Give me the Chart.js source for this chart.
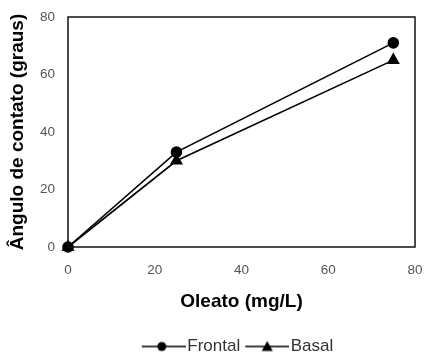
<!DOCTYPE html>
<html><head><meta charset="utf-8">
<script src="https://cdn.jsdelivr.net/npm/chart.js@4/dist/chart.umd.min.js"></script>
<style>html,body{margin:0;padding:0;background:#fff}#w{width:424px;height:352px}</style>
</head><body><div id="w"><canvas id="c" width="424" height="352"></canvas></div>
<script>
const oleato = [0, 25, 75];
const frontal = [0, 33, 71];
const basal = [0, 30, 65];
const xTicks = [0, 20, 40, 60, 80];
const yTicks = [0, 20, 40, 60, 80];

function legendIcon(style){
  const c=document.createElement('canvas');c.width=50;c.height=14;
  const g=c.getContext('2d');g.strokeStyle='#000';g.fillStyle='#000';g.lineWidth=1.6;
  g.beginPath();g.moveTo(6,7);g.lineTo(50,7);g.stroke();
  g.beginPath();
  if(style==='circle'){g.arc(26,7,4.5,0,Math.PI*2);}else{g.moveTo(28,1.5);g.lineTo(33.5,11.5);g.lineTo(22.5,11.5);g.closePath();}
  g.fill();return c;
}
const frameP={id:'frame',
  afterLayout(ch){if(ch.legend){ch.legend.left+=26;ch.legend.right+=26;ch.legend.top+=2;ch.legend.bottom+=2;}},
  afterDatasetsDraw(ch){const a=ch.chartArea,g=ch.ctx;g.save();g.strokeStyle='#111';g.lineWidth=1.5;g.strokeRect(a.left,a.top,a.right-a.left,a.bottom-a.top);g.restore();}};
new Chart(document.getElementById('c'),{
  type:'line',
  data:{datasets:[
    {label:'Frontal',data:oleato.map((x,i)=>({x,y:frontal[i]})),borderColor:'#000',backgroundColor:'#000',borderWidth:1.6,pointStyle:'circle',pointRadius:5,pointHoverRadius:5,clip:false},
    {label:'Basal',data:oleato.map((x,i)=>({x,y:basal[i]})),borderColor:'#000',backgroundColor:'#000',borderWidth:1.6,pointStyle:'triangle',pointRadius:6,pointHoverRadius:6,clip:false}
  ]},
  options:{responsive:false,animation:false,devicePixelRatio:1,
    layout:{padding:{top:17,right:0,left:0,bottom:-11}},
    scales:{
      x:{type:'linear',min:0,max:80,afterBuildTicks(s){s.ticks=xTicks.map(v=>({value:v}));},
        grid:{display:false},border:{display:false},
        ticks:{color:'#555',font:{family:'Liberation Sans',size:13.5},padding:7},
        title:{display:true,text:'Oleato (mg/L)',color:'#000',font:{family:'Liberation Sans',size:19,weight:'bold'},padding:{top:10,bottom:17}},
        afterFit(s){s.height=83;s.paddingRight=9;s.paddingLeft=0;}},
      y:{min:0,max:80,afterBuildTicks(s){s.ticks=yTicks.map(v=>({value:v}));},
        grid:{display:false},border:{display:false},
        ticks:{color:'#555',font:{family:'Liberation Sans',size:13.5},padding:5},
        title:{display:true,text:'Ângulo de contato (graus)',color:'#000',font:{family:'Liberation Sans',size:19,weight:'bold'},padding:{top:6,bottom:4}},
        afterFit(s){s.width=68;}}
    },
    plugins:{tooltip:{enabled:false},
      legend:{position:'bottom',labels:{usePointStyle:true,pointStyleWidth:36,color:'#333',font:{family:'Liberation Sans',size:17},padding:6,boxHeight:14,
        generateLabels(ch){return ch.data.datasets.map((d,i)=>({text:d.label,pointStyle:legendIcon(i===0?'circle':'triangle'),fillStyle:'#000',strokeStyle:'#000',lineWidth:0,hidden:false,datasetIndex:i,fontColor:'#333'}));}}}
    }
  },
  plugins:[frameP]
});
</script></body></html>
